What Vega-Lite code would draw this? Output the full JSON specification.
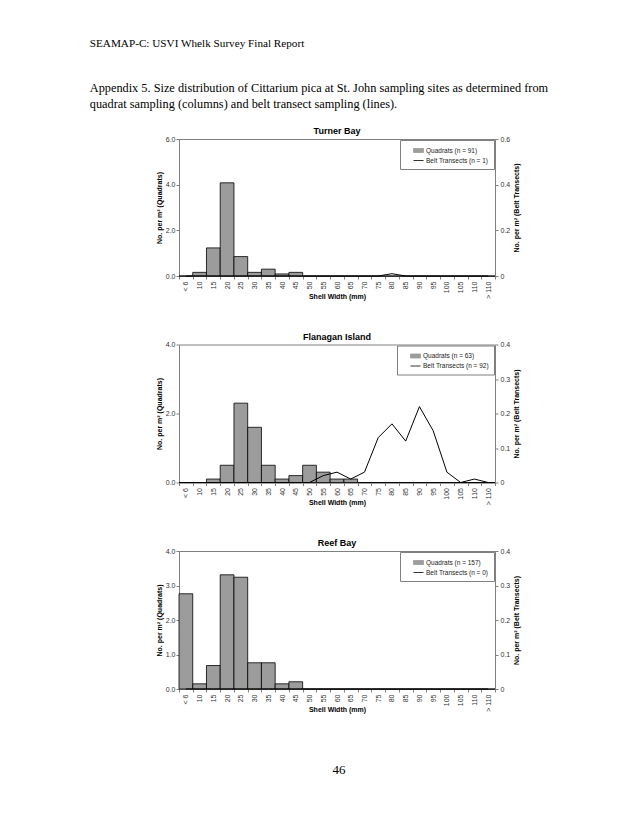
{
  "$schema": "https://vega.github.io/schema/vega-lite/v6.json",
  "background": "white",
  "padding": {"left": 89, "top": 38, "right": 5, "bottom": 5},
  "autosize": {"type": "pad"},
  "title": {
    "text": "SEAMAP-C: USVI Whelk Survey Final Report",
    "subtitle": ["Appendix 5.  Size distribution of Cittarium pica at St. John sampling sites as determined from", "quadrat sampling (columns) and belt transect sampling (lines)."],
    "anchor": "start",
    "frame": "bounds",
    "dx": -65,
    "font": "Liberation Serif",
    "fontSize": 11.2,
    "fontWeight": "normal",
    "color": "black",
    "subtitleFont": "Liberation Serif",
    "subtitleFontSize": 12.3,
    "subtitleColor": "black",
    "subtitlePadding": 33,
    "subtitleLineHeight": 16,
    "offset": 16
  },
  "config": {
    "font": "Liberation Sans",
    "view": {"stroke": "#808080", "strokeWidth": 1},
    "axis": {
      "grid": false,
      "domainColor": "#808080",
      "tickColor": "#808080",
      "tickSize": 3,
      "labelFont": "Liberation Sans",
      "labelFontSize": 7,
      "labelColor": "#333333",
      "titleFont": "Liberation Sans",
      "titleFontSize": 7,
      "titleFontWeight": "bold",
      "titleColor": "black"
    },
    "legend": {
      "orient": "top-right", "offset": 1, "title": null, "padding": 5, "strokeColor": "#808080", "fillColor": "white",
      "labelFont": "Liberation Sans", "labelFontSize": 6.5, "labelColor": "#222222", "symbolOffset": 8, "rowPadding": 0, "labelOffset": 2, "symbolSize": 100,
      "symbolType": {"expr": "indexof(datum.value, 'Quadrats') === 0 ? 'M-1,-0.4H1V0.4H-1Z' : 'stroke'"},
      "symbolStrokeColor": "black",
      "symbolStrokeWidth": 0.8
    },
    "title": {"font": "Liberation Sans", "fontSize": 9, "fontWeight": "bold", "color": "black", "offset": -1}
  },
  "spacing": 31.5,
  "resolve": {"scale": {"color": "independent"}, "legend": {"color": "independent"}},
  "vconcat": [
    {
      "title": "Turner Bay",
      "width": 316,
      "height": 137,
      "data": {"values": [
        {"size": "< 6", "quad": 0, "belt": 0},
        {"size": "10", "quad": 0.16, "belt": 0},
        {"size": "15", "quad": 1.23, "belt": 0},
        {"size": "20", "quad": 4.08, "belt": 0},
        {"size": "25", "quad": 0.85, "belt": 0},
        {"size": "30", "quad": 0.16, "belt": 0},
        {"size": "35", "quad": 0.3, "belt": 0},
        {"size": "40", "quad": 0.09, "belt": 0},
        {"size": "45", "quad": 0.16, "belt": 0},
        {"size": "50", "quad": 0, "belt": 0},
        {"size": "55", "quad": 0, "belt": 0},
        {"size": "60", "quad": 0, "belt": 0},
        {"size": "65", "quad": 0, "belt": 0},
        {"size": "70", "quad": 0, "belt": 0},
        {"size": "75", "quad": 0, "belt": 0},
        {"size": "80", "quad": 0, "belt": 0.01},
        {"size": "85", "quad": 0, "belt": 0},
        {"size": "90", "quad": 0, "belt": 0},
        {"size": "95", "quad": 0, "belt": 0},
        {"size": "100", "quad": 0, "belt": 0},
        {"size": "105", "quad": 0, "belt": 0},
        {"size": "110", "quad": 0, "belt": 0},
        {"size": "> 110", "quad": 0, "belt": 0}
      ]},
      "encoding": {
        "x": {"field": "size", "type": "nominal", "sort": null,
          "scale": {"paddingInner": 0, "paddingOuter": 0},
          "axis": {"title": "Shell Width (mm)", "labelAngle": -90, "tickBand": "extent", "labelPadding": 2, "titlePadding": -6}}
      },
      "layer": [
        {
          "mark": {"type": "bar", "stroke": "black", "strokeWidth": 0.8},
          "encoding": {
            "y": {"field": "quad", "type": "quantitative", "scale": {"domain": [0, 6]},
              "axis": {"orient": "left", "title": "No. per m² (Quadrats)", "values": [0, 2, 4, 6], "format": ".1f", "labelPadding": 1, "titlePadding": 3}},
            "color": {"datum": "Quadrats (n = 91)", "type": "nominal",
              "scale": {"domain": ["Quadrats (n = 91)", "Belt Transects (n = 1)"], "range": ["#9c9c9c", "#000000"]}}
          }
        },
        {
          "mark": {"type": "line", "strokeWidth": 1},
          "encoding": {
            "y": {"field": "belt", "type": "quantitative", "scale": {"domain": [0, 0.6]},
              "axis": {"orient": "right", "title": "No. per m² (Belt Transects)", "titleAngle": 270, "titleBaseline": "top", "values": [0, 0.2, 0.4, 0.6], "format": ".1~f", "labelPadding": 2, "titlePadding": 3}},
            "color": {"datum": "Belt Transects (n = 1)", "type": "nominal"}
          }
        }
      ],
      "resolve": {"scale": {"y": "independent"}}
    },
    {
      "title": "Flanagan Island",
      "width": 316,
      "height": 138,
      "data": {"values": [
        {"size": "< 6", "quad": 0, "belt": 0},
        {"size": "10", "quad": 0, "belt": 0},
        {"size": "15", "quad": 0.1, "belt": 0},
        {"size": "20", "quad": 0.5, "belt": 0},
        {"size": "25", "quad": 2.3, "belt": 0},
        {"size": "30", "quad": 1.6, "belt": 0},
        {"size": "35", "quad": 0.5, "belt": 0},
        {"size": "40", "quad": 0.1, "belt": 0},
        {"size": "45", "quad": 0.2, "belt": 0},
        {"size": "50", "quad": 0.5, "belt": 0},
        {"size": "55", "quad": 0.3, "belt": 0.02},
        {"size": "60", "quad": 0.1, "belt": 0.03},
        {"size": "65", "quad": 0.1, "belt": 0.01},
        {"size": "70", "quad": 0, "belt": 0.03},
        {"size": "75", "quad": 0, "belt": 0.13},
        {"size": "80", "quad": 0, "belt": 0.17},
        {"size": "85", "quad": 0, "belt": 0.12},
        {"size": "90", "quad": 0, "belt": 0.22},
        {"size": "95", "quad": 0, "belt": 0.15},
        {"size": "100", "quad": 0, "belt": 0.03},
        {"size": "105", "quad": 0, "belt": 0},
        {"size": "110", "quad": 0, "belt": 0.01},
        {"size": "> 110", "quad": 0, "belt": 0}
      ]},
      "encoding": {
        "x": {"field": "size", "type": "nominal", "sort": null,
          "scale": {"paddingInner": 0, "paddingOuter": 0},
          "axis": {"title": "Shell Width (mm)", "labelAngle": -90, "tickBand": "extent", "labelPadding": 2, "titlePadding": -6}}
      },
      "layer": [
        {
          "mark": {"type": "bar", "stroke": "black", "strokeWidth": 0.8},
          "encoding": {
            "y": {"field": "quad", "type": "quantitative", "scale": {"domain": [0, 4]},
              "axis": {"orient": "left", "title": "No. per m² (Quadrats)", "values": [0, 2, 4], "format": ".1f", "labelPadding": 1, "titlePadding": 3}},
            "color": {"datum": "Quadrats (n = 63)", "type": "nominal",
              "scale": {"domain": ["Quadrats (n = 63)", "Belt Transects (n = 92)"], "range": ["#9c9c9c", "#000000"]}}
          }
        },
        {
          "mark": {"type": "line", "strokeWidth": 1},
          "encoding": {
            "y": {"field": "belt", "type": "quantitative", "scale": {"domain": [0, 0.4]},
              "axis": {"orient": "right", "title": "No. per m² (Belt Transects)", "titleAngle": 270, "titleBaseline": "top", "values": [0, 0.1, 0.2, 0.3, 0.4], "format": ".1~f", "labelPadding": 2, "titlePadding": 3}},
            "color": {"datum": "Belt Transects (n = 92)", "type": "nominal"}
          }
        }
      ],
      "resolve": {"scale": {"y": "independent"}}
    },
    {
      "title": "Reef Bay",
      "width": 316,
      "height": 138,
      "data": {"values": [
        {"size": "< 6", "quad": 2.76, "belt": 0},
        {"size": "10", "quad": 0.15, "belt": 0},
        {"size": "15", "quad": 0.68, "belt": 0},
        {"size": "20", "quad": 3.31, "belt": 0},
        {"size": "25", "quad": 3.24, "belt": 0},
        {"size": "30", "quad": 0.76, "belt": 0},
        {"size": "35", "quad": 0.76, "belt": 0},
        {"size": "40", "quad": 0.15, "belt": 0},
        {"size": "45", "quad": 0.21, "belt": 0},
        {"size": "50", "quad": 0, "belt": 0},
        {"size": "55", "quad": 0, "belt": 0},
        {"size": "60", "quad": 0, "belt": 0},
        {"size": "65", "quad": 0, "belt": 0},
        {"size": "70", "quad": 0, "belt": 0},
        {"size": "75", "quad": 0, "belt": 0},
        {"size": "80", "quad": 0, "belt": 0},
        {"size": "85", "quad": 0, "belt": 0},
        {"size": "90", "quad": 0, "belt": 0},
        {"size": "95", "quad": 0, "belt": 0},
        {"size": "100", "quad": 0, "belt": 0},
        {"size": "105", "quad": 0, "belt": 0},
        {"size": "110", "quad": 0, "belt": 0},
        {"size": "> 110", "quad": 0, "belt": 0}
      ]},
      "encoding": {
        "x": {"field": "size", "type": "nominal", "sort": null,
          "scale": {"paddingInner": 0, "paddingOuter": 0},
          "axis": {"title": "Shell Width (mm)", "labelAngle": -90, "tickBand": "extent", "labelPadding": 2, "titlePadding": -6}}
      },
      "layer": [
        {
          "mark": {"type": "bar", "stroke": "black", "strokeWidth": 0.8},
          "encoding": {
            "y": {"field": "quad", "type": "quantitative", "scale": {"domain": [0, 4]},
              "axis": {"orient": "left", "title": "No. per m² (Quadrats)", "values": [0, 1, 2, 3, 4], "format": ".1f", "labelPadding": 1, "titlePadding": 3}},
            "color": {"datum": "Quadrats (n = 157)", "type": "nominal",
              "scale": {"domain": ["Quadrats (n = 157)", "Belt Transects (n = 0)"], "range": ["#9c9c9c", "#000000"]}}
          }
        },
        {
          "mark": {"type": "line", "strokeWidth": 1},
          "encoding": {
            "y": {"field": "belt", "type": "quantitative", "scale": {"domain": [0, 0.4]},
              "axis": {"orient": "right", "title": "No. per m² (Belt Transects)", "titleAngle": 270, "titleBaseline": "top", "values": [0, 0.1, 0.2, 0.3, 0.4], "format": ".1~f", "labelPadding": 2, "titlePadding": 3}},
            "color": {"datum": "Belt Transects (n = 0)", "type": "nominal"}
          }
        }
      ],
      "resolve": {"scale": {"y": "independent"}}
    },
    {
      "width": 320,
      "height": 50,
      "view": {"stroke": null},
      "data": {"values": [{"t": "46"}]},
      "mark": {"type": "text", "font": "Liberation Serif", "fontSize": 13, "color": "black"},
      "encoding": {"text": {"field": "t", "type": "nominal"}}
    }
  ]
}
